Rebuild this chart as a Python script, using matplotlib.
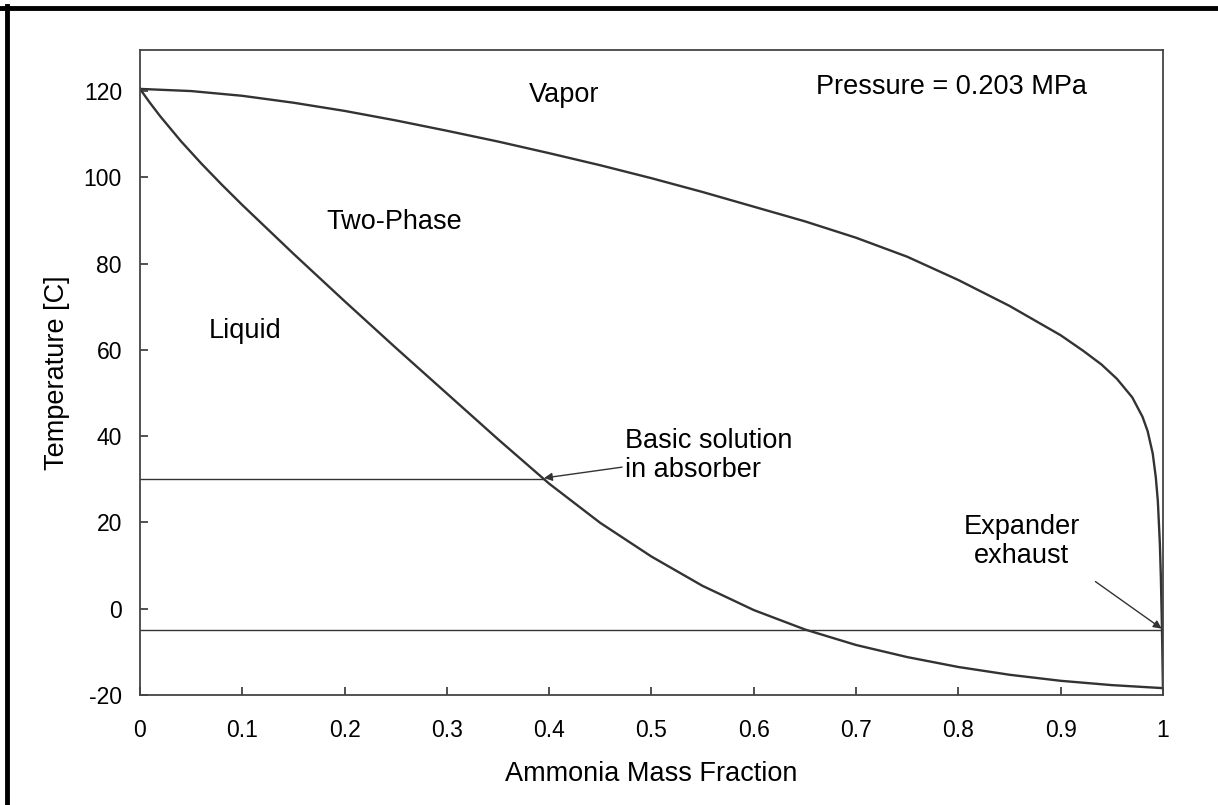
import numpy as np
import matplotlib.pyplot as plt
from matplotlib.lines import Line2D

plt.rcParams['font.family'] = ['Liberation Sans', 'DejaVu Sans']
plt.rcParams['axes.unicode_minus'] = False

# ammonia-water equilibrium at 0.203 MPa
x_dew = [0.0, 0.05, 0.1, 0.15, 0.2, 0.25, 0.3, 0.35, 0.4, 0.45, 0.5, 0.55,
         0.6, 0.65, 0.7, 0.75, 0.8, 0.85, 0.9, 0.922, 0.94, 0.955, 0.97,
         0.98, 0.985, 0.99, 0.993, 0.995, 0.997, 0.998, 0.999, 1.0]
t_dew = [120.5, 120.0, 118.9, 117.3, 115.4, 113.2, 110.8, 108.3, 105.6,
         102.8, 99.8, 96.6, 93.2, 89.8, 86.0, 81.6, 76.2, 70.2, 63.4, 59.8,
         56.6, 53.3, 49.0, 44.5, 41.2, 36.0, 30.5, 25.0, 15.0, 7.0, -4.0,
         -18.4]

x_bub = [0.0, 0.01, 0.02, 0.04, 0.06, 0.08, 0.1, 0.15, 0.2, 0.25, 0.3, 0.35,
         0.4, 0.45, 0.5, 0.55, 0.6, 0.65, 0.7, 0.75, 0.8, 0.85, 0.9, 0.95, 1.0]
t_bub = [120.5, 117.2, 114.1, 108.4, 103.2, 98.3, 93.6, 82.3, 71.3, 60.5,
         49.9, 39.3, 29.0, 19.9, 12.1, 5.3, -0.3, -4.8, -8.4, -11.2, -13.5,
         -15.3, -16.7, -17.7, -18.4]

# operating lines
t_absorber = 30.0
x_absorber = 0.395
t_exhaust = -5.0

xticks = [0, 0.1, 0.2, 0.3, 0.4, 0.5, 0.6, 0.7, 0.8, 0.9, 1]
xticklabels = ['0', '0.1', '0.2', '0.3', '0.4', '0.5', '0.6', '0.7', '0.8', '0.9', '1']
yticks = [-20, 0, 20, 40, 60, 80, 100, 120]

ink = '#333333'

fig = plt.figure(figsize=(12.18, 8.05), dpi=100)
ax = fig.add_axes([0.1149, 0.1366, 0.8399, 0.8012])

ax.plot(x_dew, t_dew, color=ink, lw=1.7, solid_joinstyle='round')
ax.plot(x_bub, t_bub, color=ink, lw=1.7, solid_joinstyle='round')
ax.plot([0, x_absorber], [t_absorber, t_absorber], color=ink, lw=1.0)
ax.plot([0, 1], [t_exhaust, t_exhaust], color=ink, lw=1.0)

ax.set_xlim(0, 1)
ax.set_ylim(-20, 129.5)
ax.set_xticks(xticks)
ax.set_xticklabels(xticklabels)
ax.set_yticks(yticks)
ax.tick_params(axis='both', direction='in', length=6, width=1.2, color=ink,
               labelsize=16.5, top=False, right=False)
ax.tick_params(axis='x', pad=17)
ax.tick_params(axis='y', pad=13)
for s in ax.spines.values():
    s.set_color('#444444')
    s.set_linewidth(1.3)

ax.set_xlabel('Ammonia Mass Fraction', fontsize=19.5, labelpad=14)
ax.set_ylabel('Temperature [C]', fontsize=19.5, labelpad=10)

fs = 19.5
ax.text(0.415, 119.0, 'Vapor', fontsize=fs, ha='center', va='center')
ax.text(0.249, 89.6, 'Two-Phase', fontsize=fs, ha='center', va='center')
ax.text(0.103, 64.4, 'Liquid', fontsize=fs, ha='center', va='center')
ax.text(0.926, 121.0, 'Pressure = 0.203 MPa', fontsize=fs, ha='right', va='center')

arrow = dict(arrowstyle='-|>', color=ink, lw=1.0, mutation_scale=12,
             shrinkA=0, shrinkB=0)
ax.annotate('Basic solution\nin absorber', xy=(x_absorber, 30.3),
            xytext=(0.474, 42.0), fontsize=fs, ha='left', va='top',
            linespacing=1.15, arrowprops=arrow)
ax.annotate('', xy=(0.9987, -4.6), xytext=(0.934, 6.3), arrowprops=arrow)
ax.text(0.862, 15.6, 'Expander\nexhaust', fontsize=fs, ha='center', va='center',
        linespacing=1.15)

# frame around the figure
fig.add_artist(Line2D([0.0, 1.0], [0.9900, 0.9900], color='black', lw=3.5,
                      transform=fig.transFigure))
fig.add_artist(Line2D([0.0058, 0.0058], [0.0, 0.9921], color='black', lw=3.5,
                      transform=fig.transFigure))

fig.savefig('out.png', dpi=100, facecolor='white')
